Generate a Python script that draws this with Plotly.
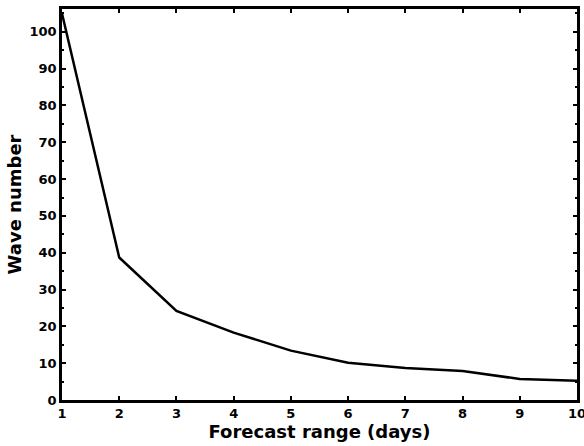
import plotly.graph_objects as go

days = [1, 2, 3, 4, 5, 6, 7, 8, 9, 10]
wave_number = [105, 38.7, 24.2, 18.3, 13.4, 10.1, 8.7, 7.9, 5.7, 5.2]
x_ticks = [1, 2, 3, 4, 5, 6, 7, 8, 9, 10]
y_ticks = [0, 10, 20, 30, 40, 50, 60, 70, 80, 90, 100]

fig = go.Figure()
fig.add_trace(go.Scatter(x=days, y=wave_number, mode="lines",
                         line=dict(color="black", width=2.5), showlegend=False))

font = "DejaVu Sans, Arial, sans-serif"
fig.update_layout(
    width=584, height=446,
    margin=dict(l=62, r=7, t=9, b=46),
    paper_bgcolor="white", plot_bgcolor="white",
    font=dict(family=font, color="black"),
)
fig.update_xaxes(
    range=[1, 10], tickvals=x_ticks, ticktext=[str(v) for v in x_ticks],
    ticks="inside", ticklen=4, tickwidth=1.5, tickcolor="black",
    showline=True, linecolor="black", linewidth=2.5, mirror="ticks",
    showgrid=False, zeroline=False, automargin=False, ticklabeloverflow="allow",
    tickfont=dict(size=13, family=font, weight="bold"),
    title=dict(text="<b>Forecast range (days)</b>", font=dict(size=18), standoff=2),
)
fig.update_yaxes(
    range=[0, 106.2], tickvals=y_ticks, ticktext=[str(v) for v in y_ticks],
    ticks="inside", ticklen=4, tickwidth=1.5, tickcolor="black",
    minor=dict(ticks="inside", ticklen=2, dtick=5, tickcolor="black"),
    showline=True, linecolor="black", linewidth=2.5, mirror="ticks",
    showgrid=False, zeroline=False, automargin=False, ticklabeloverflow="allow",
    tickfont=dict(size=13, family=font, weight="bold"),
    title=dict(text="<b>Wave number</b>", font=dict(size=18), standoff=4),
)

fig.write_html("out.html", config={"displayModeBar": False},
               post_script="document.body.style.margin='0';document.body.style.overflow='hidden';")
